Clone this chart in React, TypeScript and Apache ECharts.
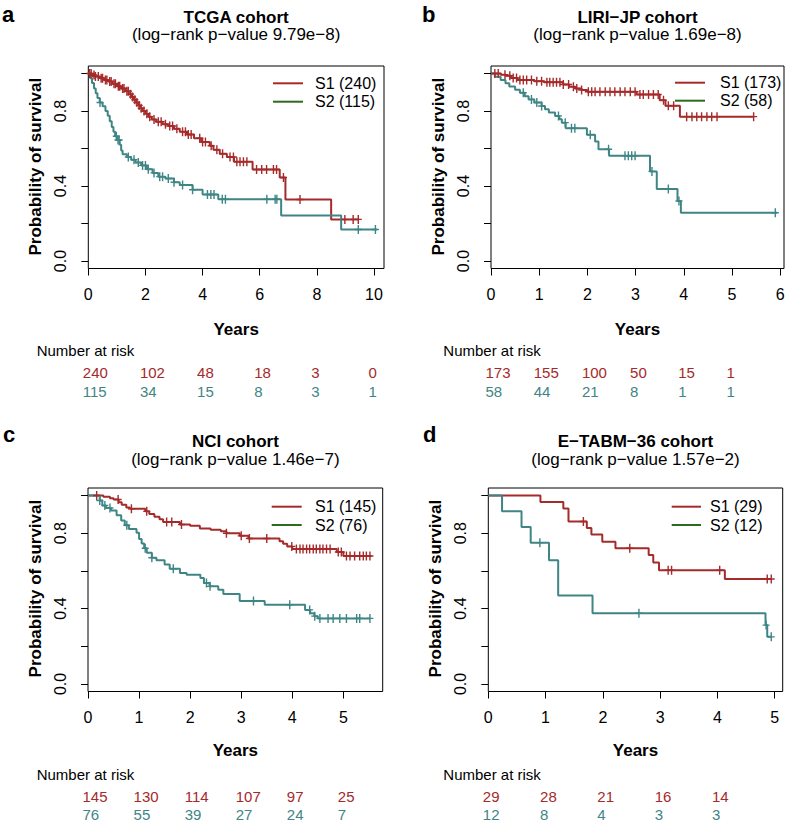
import React, { useEffect, useRef } from 'react';
import * as echarts from 'echarts';

type Pt = [number, number];

const RED = '#A52A2A';
const TEAL = '#3F8585';
const LEGEND_GREEN = '#2E6A1E';
const FONT = '"Liberation Sans", Arial, Helvetica, sans-serif';

// ---------- a: TCGA ----------
const tcgaS1: Pt[] = [
  [0, 1], [0.12, 0.992], [0.25, 0.984], [0.4, 0.975], [0.55, 0.966], [0.7, 0.958], [0.85, 0.945],
  [1.0, 0.932], [1.15, 0.92], [1.3, 0.905], [1.42, 0.89], [1.52, 0.875], [1.6, 0.86], [1.68, 0.845],
  [1.75, 0.83], [1.82, 0.815], [1.9, 0.8], [2.0, 0.785], [2.1, 0.77], [2.22, 0.755], [2.38, 0.743],
  [2.6, 0.73], [2.8, 0.72], [3.0, 0.705], [3.2, 0.69], [3.45, 0.675], [3.7, 0.655], [3.95, 0.635],
  [4.25, 0.615], [4.38, 0.593], [4.6, 0.572], [4.85, 0.555], [5.1, 0.53], [5.75, 0.488], [6.7, 0.445],
  [6.9, 0.328], [8.5, 0.222],
];
const tcgaS1End = 9.45;
const tcgaS1Censor = [
  0.05, 0.1, 0.2, 0.25, 0.35, 0.45, 0.5, 0.6, 0.65, 0.75, 0.8, 0.9, 0.95, 1.05, 1.1, 1.2, 1.25, 1.35,
  1.4, 1.48, 1.55, 1.63, 1.7, 1.78, 1.85, 1.95, 2.05, 2.15, 2.3, 2.45, 2.55, 2.7, 2.85, 2.95, 3.1,
  3.3, 3.4, 3.5, 3.6, 3.9, 4.0, 4.1, 4.3, 4.5, 4.7, 4.96, 5.08, 5.2, 5.31, 5.43, 5.55, 5.89, 6.07,
  6.24, 6.48, 6.59, 6.83, 7.41, 8.98, 9.27, 9.45,
];
const tcgaS2: Pt[] = [
  [0, 1], [0.07, 0.975], [0.13, 0.95], [0.2, 0.92], [0.26, 0.895], [0.32, 0.87], [0.4, 0.845],
  [0.5, 0.825], [0.6, 0.8], [0.68, 0.775], [0.75, 0.745], [0.82, 0.715], [0.88, 0.69], [0.94, 0.665],
  [1.02, 0.645], [1.1, 0.62], [1.15, 0.59], [1.2, 0.57], [1.35, 0.555], [1.5, 0.54], [1.65, 0.525],
  [1.85, 0.51], [2.05, 0.49], [2.25, 0.47], [2.45, 0.45], [2.7, 0.44], [3.0, 0.42], [3.2, 0.405],
  [3.65, 0.38], [4.0, 0.355], [4.55, 0.33], [6.75, 0.243], [8.85, 0.168],
];
const tcgaS2End = 10.1;
const tcgaS2Censor = [
  0.41, 0.98, 1.04, 1.08, 1.4, 1.6, 1.75, 1.9, 2.0, 2.1, 2.3, 2.5, 2.6, 2.8, 3.0, 3.3, 3.65, 4.17,
  4.29, 4.4, 4.69, 4.8, 6.25, 6.54, 6.6, 9.45, 10.05,
];
const tcgaXTicks = [0, 2, 4, 6, 8, 10];
const tcgaRiskTimes = [0, 2, 4, 6, 8, 10];
const tcgaRiskS1 = [240, 102, 48, 18, 3, 0];
const tcgaRiskS2 = [115, 34, 15, 8, 3, 1];

// ---------- b: LIRI-JP ----------
const liriS1: Pt[] = [
  [0, 1], [0.2, 0.994], [0.3, 0.988], [0.42, 0.976], [0.55, 0.965], [0.9, 0.959], [1.1, 0.953],
  [1.5, 0.941], [1.62, 0.93], [1.75, 0.92], [1.88, 0.912], [2.0, 0.903], [3.02, 0.888], [3.5, 0.858],
  [3.62, 0.828], [3.92, 0.77],
];
const liriS1End = 5.45;
const liriS1Censor = [
  0.08, 0.15, 0.29, 0.39, 0.46, 0.53, 0.6, 0.67, 0.74, 0.84, 0.95, 1.05, 1.16, 1.22, 1.29, 1.36,
  1.43, 1.5, 1.61, 1.71, 1.78, 1.88, 2.02, 2.09, 2.16, 2.26, 2.37, 2.47, 2.57, 2.68, 2.78, 2.89,
  2.99, 3.09, 3.16, 3.27, 3.37, 3.47, 3.58, 3.68, 3.79, 4.06, 4.17, 4.27, 4.37, 4.48, 4.58, 4.69, 5.45,
];
const liriS2: Pt[] = [
  [0, 1], [0.08, 0.983], [0.2, 0.966], [0.3, 0.948], [0.38, 0.931], [0.5, 0.914], [0.6, 0.897],
  [0.7, 0.879], [0.78, 0.862], [0.9, 0.845], [1.05, 0.827], [1.12, 0.81], [1.2, 0.792], [1.33, 0.774],
  [1.42, 0.756], [1.47, 0.738], [1.55, 0.708], [1.99, 0.673], [2.16, 0.637], [2.23, 0.596],
  [2.45, 0.561], [3.3, 0.478], [3.44, 0.384], [3.87, 0.32], [3.94, 0.257],
];
const liriS2End = 5.93;
const liriS2Censor = [
  0.67, 0.84, 0.95, 1.05, 1.4, 1.54, 1.67, 1.74, 2.06, 2.44, 2.78, 2.85, 2.92, 2.99, 3.34, 3.68, 3.9, 5.9,
];
const liriXTicks = [0, 1, 2, 3, 4, 5, 6];
const liriRiskTimes = [0, 1, 2, 3, 4, 5];
const liriRiskS1 = [173, 155, 100, 50, 15, 1];
const liriRiskS2 = [58, 44, 21, 8, 1, 1];

// ---------- c: NCI ----------
const nciS1: Pt[] = [
  [0, 1], [0.3, 0.993], [0.43, 0.986], [0.5, 0.979], [0.6, 0.965], [0.66, 0.951], [0.75, 0.937],
  [0.82, 0.93], [1.12, 0.916], [1.2, 0.902], [1.3, 0.888], [1.4, 0.874], [1.47, 0.86], [1.8, 0.846],
  [2.0, 0.839], [2.19, 0.825], [2.4, 0.818], [2.6, 0.811], [2.71, 0.8], [2.97, 0.786], [3.14, 0.772],
  [3.75, 0.758], [3.82, 0.744], [3.9, 0.73], [4.0, 0.716], [4.87, 0.7], [5.0, 0.679],
];
const nciS1End = 5.55;
const nciS1Censor = [
  0.17, 0.59, 0.85, 1.15, 1.54, 1.64, 1.83, 2.71, 3.0, 3.16, 3.5, 3.99, 4.08, 4.15, 4.21, 4.28, 4.34,
  4.41, 4.47, 4.54, 4.6, 4.67, 4.74, 4.9, 4.96, 5.06, 5.13, 5.22, 5.32, 5.39, 5.45, 5.52,
];
const nciS2: Pt[] = [
  [0, 1], [0.23, 0.974], [0.28, 0.947], [0.35, 0.934], [0.45, 0.92], [0.56, 0.895], [0.65, 0.868],
  [0.72, 0.842], [0.8, 0.822], [0.95, 0.803], [1.0, 0.77], [1.05, 0.745], [1.1, 0.72], [1.15, 0.696],
  [1.25, 0.67], [1.34, 0.657], [1.5, 0.634], [1.6, 0.611], [1.8, 0.589], [1.93, 0.58], [2.2, 0.562],
  [2.27, 0.536], [2.38, 0.518], [2.55, 0.5], [2.65, 0.478], [2.97, 0.44], [3.46, 0.42], [4.25, 0.393],
  [4.35, 0.375], [4.43, 0.36], [4.5, 0.348],
];
const nciS2End = 5.52;
const nciS2Censor = [
  0.23, 0.33, 0.43, 0.76, 1.12, 1.25, 1.67, 2.32, 2.39, 3.24, 3.95, 4.34, 4.44, 4.54, 4.7, 4.8, 4.93,
  5.06, 5.26, 5.32, 5.52,
];
const nciXTicks = [0, 1, 2, 3, 4, 5];
const nciRiskTimes = [0, 1, 2, 3, 4, 5];
const nciRiskS1 = [145, 130, 114, 107, 97, 25];
const nciRiskS2 = [76, 55, 39, 27, 24, 7];

// ---------- d: E-TABM-36 ----------
const etabS1: Pt[] = [
  [0, 1], [0.91, 0.966], [1.31, 0.931], [1.4, 0.862], [1.72, 0.828], [1.8, 0.793], [1.99, 0.755],
  [2.22, 0.72], [2.8, 0.685], [2.88, 0.644], [2.98, 0.604], [4.13, 0.557],
];
const etabS1End = 4.94;
const etabS1Censor = [1.66, 2.47, 3.14, 3.2, 4.04, 4.87, 4.94];
const etabS2: Pt[] = [
  [0, 1], [0.24, 0.917], [0.58, 0.833], [0.74, 0.75], [1.06, 0.656], [1.22, 0.469], [1.82, 0.375],
  [4.84, 0.3125], [4.87, 0.25],
];
const etabS2End = 4.94;
const etabS2Censor = [0.9, 2.63, 4.85, 4.94];
const etabXTicks = [0, 1, 2, 3, 4, 5];
const etabRiskTimes = [0, 1, 2, 3, 4];
const etabRiskS1 = [29, 28, 21, 16, 14];
const etabRiskS2 = [12, 8, 4, 3, 3];

const yTicks = [0, 0.2, 0.4, 0.6, 0.8, 1.0];
const yLabels = [0, 0.4, 0.8];

const PANELS = [
  {
    letter: 'a', title: 'TCGA cohort', sub: '(log\u2212rank p\u2212value 9.79e\u22128)',
    s1: tcgaS1, s1End: tcgaS1End, s1Cens: tcgaS1Censor, s2: tcgaS2, s2End: tcgaS2End, s2Cens: tcgaS2Censor,
    s1Label: 'S1 (240)', s2Label: 'S2 (115)', xmax: 10.35, xticks: tcgaXTicks,
    riskT: tcgaRiskTimes, risk1: tcgaRiskS1, risk2: tcgaRiskS2,
    box: { left: 88.3, top: 66, width: 295.7, height: 202.5 },
    lay: { letterX: 2, letterY: 14, titleY: 17.3, subY: 34.5, ylabX: 35.7, ylabY: 166.7, yearsY: 329,
      narX: 36.7, narY: 350.5, r1Y: 372.3, r2Y: 391, legX1: 273, legX2: 303, legTX: 315, legY1: 83.3, legY2: 101.7 },
  },
  {
    letter: 'b', title: 'LIRI\u2212JP cohort', sub: '(log\u2212rank p\u2212value 1.69e\u22128)',
    s1: liriS1, s1End: liriS1End, s1Cens: liriS1Censor, s2: liriS2, s2End: liriS2End, s2Cens: liriS2Censor,
    s1Label: 'S1 (173)', s2Label: 'S2 (58)', xmax: 6.08, xticks: liriXTicks,
    riskT: liriRiskTimes, risk1: liriRiskS1, risk2: liriRiskS2,
    box: { left: 491, top: 66, width: 293, height: 202.5 },
    lay: { letterX: 422, letterY: 14, titleY: 17.3, subY: 34.5, ylabX: 438.4, ylabY: 166.7, yearsY: 329,
      narX: 443.3, narY: 350.5, r1Y: 372.3, r2Y: 391, legX1: 675, legX2: 705, legTX: 720, legY1: 82.7, legY2: 100.7 },
  },
  {
    letter: 'c', title: 'NCI cohort', sub: '(log\u2212rank p\u2212value 1.46e\u22127)',
    s1: nciS1, s1End: nciS1End, s1Cens: nciS1Censor, s2: nciS2, s2End: nciS2End, s2Cens: nciS2Censor,
    s1Label: 'S1 (145)', s2Label: 'S2 (76)', xmax: 5.77, xticks: nciXTicks,
    riskT: nciRiskTimes, risk1: nciRiskS1, risk2: nciRiskS2,
    box: { left: 88, top: 488, width: 294.7, height: 203.5 },
    lay: { letterX: 3, letterY: 434, titleY: 441.3, subY: 459, ylabX: 35.4, ylabY: 588.6, yearsY: 750,
      narX: 36.7, narY: 774, r1Y: 796, r2Y: 814.7, legX1: 271.7, legX2: 301.7, legTX: 315, legY1: 506.7, legY2: 525 },
  },
  {
    letter: 'd', title: 'E\u2212TABM\u221236 cohort', sub: '(log\u2212rank p\u2212value 1.57e\u22122)',
    s1: etabS1, s1End: etabS1End, s1Cens: etabS1Censor, s2: etabS2, s2End: etabS2End, s2Cens: etabS2Censor,
    s1Label: 'S1 (29)', s2Label: 'S2 (12)', xmax: 5.14, xticks: etabXTicks,
    riskT: etabRiskTimes, risk1: etabRiskS1, risk2: etabRiskS2,
    box: { left: 488.3, top: 488, width: 294.4, height: 203.5 },
    lay: { letterX: 423, letterY: 434, titleY: 441.3, subY: 459, ylabX: 435.7, ylabY: 588.6, yearsY: 750,
      narX: 443.3, narY: 774, r1Y: 796, r2Y: 814.7, legX1: 671.7, legX2: 701, legTX: 710, legY1: 506.7, legY2: 525 },
  },
];

const PLUS = 'path://M28,0H42V38H70V52H42V90H28V52H0V38H28Z';

function survAt(steps: Pt[], t: number): number {
  let s = steps[0][1];
  for (const [ti, si] of steps) {
    if (ti <= t) s = si;
    else break;
  }
  return s;
}

function txt(x: number, y: number, text: string, opts: any = {}) {
  return {
    type: 'text',
    x,
    y,
    rotation: opts.rotation || 0,
    silent: true,
    style: {
      text,
      fill: opts.fill || '#000',
      fontFamily: FONT,
      fontSize: opts.size || 16,
      fontWeight: opts.bold ? 'bold' : 'normal',
      align: opts.align || 'center',
      verticalAlign: 'middle',
      textAlign: opts.align || 'center',
      textVerticalAlign: 'middle',
    },
  };
}

export default function App() {
  const ref = useRef<HTMLDivElement>(null);
  useEffect(() => {
    if (!ref.current) return;
    const chart = echarts.init(ref.current, null, { renderer: 'svg' });
    const grids: any[] = [];
    const xAxes: any[] = [];
    const yAxes: any[] = [];
    const series: any[] = [];
    PANELS.forEach((p, i) => {
      grids.push({ ...p.box, show: true, borderColor: '#000', borderWidth: 1, backgroundColor: 'transparent' });
      xAxes.push({
        type: 'value', gridIndex: i, min: 0, max: p.xmax,
        axisLine: { show: false, onZero: false },
        splitLine: { show: false },
        axisTick: { show: true, length: 7, lineStyle: { color: '#000', width: 1 }, customValues: p.xticks },
        axisLabel: { customValues: p.xticks, fontSize: 16, color: '#000', fontFamily: FONT, margin: 18 },
      });
      yAxes.push({
        type: 'value', gridIndex: i, min: -0.04, max: 1.04,
        axisLine: { show: false, onZero: false },
        splitLine: { show: false },
        axisTick: { show: true, length: 7, lineStyle: { color: '#000', width: 1 }, customValues: yTicks },
        axisLabel: {
          customValues: yLabels, rotate: 90, fontSize: 16, color: '#000', fontFamily: FONT, margin: 20,
          formatter: (v: number) => v.toFixed(1),
        },
      });
      const groups = [
        { steps: p.s1, end: p.s1End, cens: p.s1Cens, color: RED, name: p.s1Label },
        { steps: p.s2, end: p.s2End, cens: p.s2Cens, color: TEAL, name: p.s2Label },
      ];
      groups.forEach((g) => {
        const last = g.steps[g.steps.length - 1][1];
        series.push({
          type: 'line', name: g.name, xAxisIndex: i, yAxisIndex: i, step: 'end', symbol: 'none',
          lineStyle: { color: g.color, width: 2 }, itemStyle: { color: g.color },
          data: [...g.steps, [g.end, last]], silent: true, z: 3,
        });
        series.push({
          type: 'scatter', name: g.name + ' censored', xAxisIndex: i, yAxisIndex: i,
          symbol: PLUS, symbolSize: [7, 9], itemStyle: { color: g.color, opacity: 1 },
          data: g.cens.map((t) => [t, survAt(g.steps, t)]), silent: true, z: 4,
        });
      });
    });
    chart.setOption({
      animation: false,
      backgroundColor: '#fff',
      textStyle: { fontFamily: FONT },
      grid: grids,
      xAxis: xAxes,
      yAxis: yAxes,
      series,
    });

    const graphics: any[] = [];
    PANELS.forEach((p, i) => {
      const L = p.lay;
      const cx = p.box.left + p.box.width / 2;
      graphics.push(txt(L.letterX, L.letterY, p.letter, { bold: true, size: 22, align: 'left' }));
      graphics.push(txt(cx, L.titleY, p.title, { bold: true, size: 17 }));
      graphics.push(txt(cx, L.subY, p.sub, { size: 17 }));
      graphics.push(txt(L.ylabX, L.ylabY, 'Probability of survival', { bold: true, size: 17, rotation: Math.PI / 2 }));
      graphics.push(txt(cx, L.yearsY, 'Years', { bold: true, size: 17 }));
      graphics.push(txt(L.narX, L.narY, 'Number at risk', { size: 15, align: 'left' }));
      p.riskT.forEach((t, k) => {
        const px = chart.convertToPixel({ xAxisIndex: i }, t) as number;
        graphics.push(txt(px - 5.5, L.r1Y, String(p.risk1[k]), { size: 15, align: 'left', fill: RED }));
        graphics.push(txt(px - 5.5, L.r2Y, String(p.risk2[k]), { size: 15, align: 'left', fill: TEAL }));
      });
      graphics.push({ type: 'line', silent: true, shape: { x1: L.legX1, y1: L.legY1, x2: L.legX2, y2: L.legY1 }, style: { stroke: RED, lineWidth: 2 } });
      graphics.push({ type: 'line', silent: true, shape: { x1: L.legX1, y1: L.legY2, x2: L.legX2, y2: L.legY2 }, style: { stroke: LEGEND_GREEN, lineWidth: 2 } });
      graphics.push(txt(L.legTX, L.legY1, p.s1Label, { size: 16, align: 'left' }));
      graphics.push(txt(L.legTX, L.legY2, p.s2Label, { size: 16, align: 'left' }));
    });
    chart.setOption({ graphic: graphics });
    return () => chart.dispose();
  }, []);
  return (
    <div
      ref={ref}
      style={{ position: 'fixed', left: 0, top: 0, width: 790, height: 822, background: '#fff' }}
    />
  );
}
